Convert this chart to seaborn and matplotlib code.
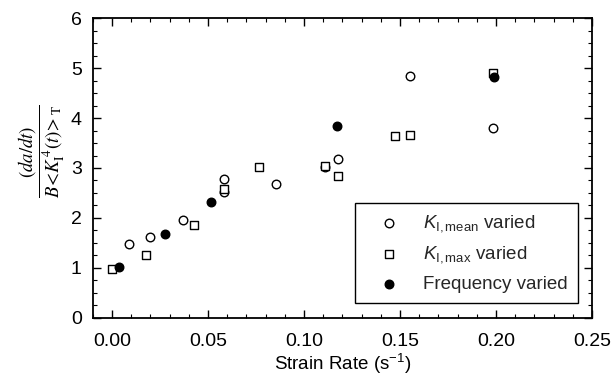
import matplotlib
matplotlib.use("Agg")
import matplotlib.pyplot as plt
import seaborn as sns
import pandas as pd
from matplotlib.ticker import MultipleLocator

sns.set_theme(style="ticks")
plt.rcParams['font.family'] = ['Liberation Sans', 'DejaVu Sans']
plt.rcParams['mathtext.fontset'] = 'custom'
plt.rcParams['mathtext.rm'] = 'Liberation Sans'
plt.rcParams['mathtext.it'] = 'Liberation Sans:italic'

# K_I,mean varied (open circles)
mean_x = [0.0088, 0.020, 0.0367, 0.0584, 0.0584, 0.0853, 0.1109, 0.1178, 0.1553, 0.1984]
mean_y = [1.47, 1.62, 1.96, 2.78, 2.51, 2.67, 3.03, 3.18, 4.85, 3.80]
# K_I,max varied (open squares)
max_x = [0.0, 0.0176, 0.0428, 0.0584, 0.0767, 0.1109, 0.1178, 0.1474, 0.1553, 0.1984]
max_y = [0.98, 1.26, 1.86, 2.57, 3.02, 3.05, 2.84, 3.65, 3.67, 4.90]
# Frequency varied (filled circles)
freq_x = [0.0038, 0.0278, 0.0517, 0.1169, 0.1988]
freq_y = [1.02, 1.67, 2.31, 3.84, 4.83]

labels = [r'$K_{\mathrm{I,mean}}$ varied', r'$K_{\mathrm{I,max}}$ varied', 'Frequency varied']

df_mean = pd.DataFrame({'x': mean_x, 'y': mean_y})
df_max = pd.DataFrame({'x': max_x, 'y': max_y})
df_freq = pd.DataFrame({'x': freq_x, 'y': freq_y})

fig, ax = plt.subplots(figsize=(6.11, 3.84), dpi=100)
fig.subplots_adjust(left=0.152, right=0.969, top=0.953, bottom=0.172)

sns.scatterplot(data=df_mean, x='x', y='y', ax=ax, marker='o', s=38,
                facecolor='white', edgecolor='black', linewidth=1.0, label=labels[0], zorder=3)
sns.scatterplot(data=df_max, x='x', y='y', ax=ax, marker='s', s=32,
                facecolor='white', edgecolor='black', linewidth=1.0, label=labels[1], zorder=3)
sns.scatterplot(data=df_freq, x='x', y='y', ax=ax, marker='o', s=38,
                facecolor='black', edgecolor='black', linewidth=1.0, label=labels[2], zorder=4)

ax.set_xlim(-0.01, 0.25)
ax.set_ylim(0, 6)
ax.xaxis.set_major_locator(MultipleLocator(0.05))
ax.xaxis.set_minor_locator(MultipleLocator(0.01))
ax.yaxis.set_major_locator(MultipleLocator(1))
ax.yaxis.set_minor_locator(MultipleLocator(0.25))
ax.xaxis.set_major_formatter(matplotlib.ticker.FormatStrFormatter('%.2f'))
ax.tick_params(which='both', direction='in', top=True, right=True, colors='black', labelsize=14)
ax.tick_params(which='major', length=6, width=1.0)
ax.tick_params(which='minor', length=3, width=0.8)
ax.tick_params(axis='x', which='major', pad=11)
ax.tick_params(axis='y', which='major', pad=8)
for sp in ax.spines.values():
    sp.set_visible(True)
    sp.set_linewidth(1.3)
    sp.set_color('black')

ax.set_xlabel(r'Strain Rate (s$^{\mathrm{-1}}$)', fontsize=13.5, color='black', labelpad=1)
ax.set_ylabel(r'$\dfrac{(da/dt)}{B\!<\!K_{\mathrm{I}}^{\,4}(t)\!>_{\mathrm{T}}}$', fontsize=13.5,
              color='black', math_fontfamily='stix', va='center')
ax.yaxis.set_label_coords(-0.102, 0.555)

leg = ax.legend(loc='lower right', bbox_to_anchor=(0.972, 0.05), borderaxespad=0,
                fancybox=False, edgecolor='black', framealpha=1, fontsize=13.5,
                handletextpad=0.5, borderpad=0.55, labelspacing=0.55, handlelength=2.6)
leg.get_frame().set_linewidth(1.0)

fig.savefig('out.png', dpi=100)
